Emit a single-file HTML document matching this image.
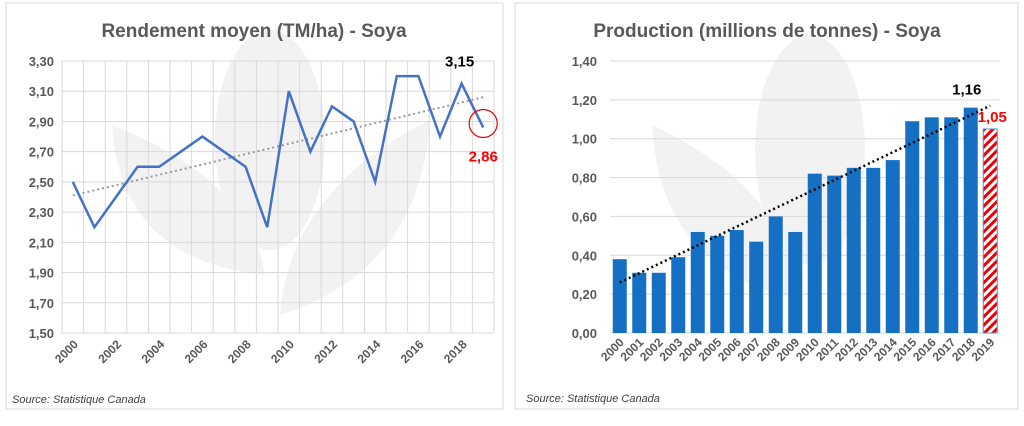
<!DOCTYPE html>
<html><head><meta charset="utf-8"><style>
body{margin:0;background:#fff;width:1024px;height:421px;overflow:hidden;font-family:"Liberation Sans",sans-serif}
svg text{font-family:"Liberation Sans",sans-serif}
</style></head><body>
<svg id="s" width="1024" height="421">
<defs><pattern id="hatch" width="6" height="6" patternUnits="userSpaceOnUse" patternTransform="rotate(45)"><rect width="6" height="6" fill="#fff"/><rect width="3" height="6" fill="#e00"/></pattern></defs>
<rect x="6" y="3" width="497" height="406" fill="#fff" stroke="#d9d9d9"/>
<rect x="515" y="3" width="503" height="406" fill="#fff" stroke="#d9d9d9"/>
<g fill="#f2f2f2">
<ellipse cx="270" cy="140" rx="55" ry="110"/><path d="M112 125 Q120 260 265 275 Q250 180 112 125Z"/><path d="M430 120 Q420 270 280 315 Q290 190 430 120Z"/></g>
<g fill="#f2f2f2">
<ellipse cx="810" cy="150" rx="55" ry="115"/><path d="M652 125 Q660 270 800 300 Q790 190 652 125Z"/></g>
<text x="254" y="37" text-anchor="middle" font-size="19" font-weight="bold" fill="#595959">Rendement moyen (TM/ha) - Soya</text>
<text x="767" y="37" text-anchor="middle" font-size="19" font-weight="bold" fill="#595959">Production (millions de tonnes) - Soya</text>
<text x="12" y="403" font-size="11" font-style="italic" fill="#404040">Source: Statistique Canada</text>
<text x="526" y="402" font-size="11" font-style="italic" fill="#404040">Source: Statistique Canada</text>
<g id="L"></g><g id="R"></g>
</svg>
<script>
const years=["2000","2001","2002","2003","2004","2005","2006","2007","2008","2009","2010","2011","2012","2013","2014","2015","2016","2017","2018","2019"];
const yieldVals=[2.50,2.20,2.40,2.60,2.60,2.70,2.80,2.70,2.60,2.20,3.10,2.70,3.00,2.90,2.50,3.20,3.20,2.80,3.15,2.86];
const yieldTicks=[1.5,1.7,1.9,2.1,2.3,2.5,2.7,2.9,3.1,3.3];
const yieldTrend=[2.41,3.06];
const prodVals=[0.38,0.31,0.31,0.39,0.52,0.50,0.53,0.47,0.60,0.52,0.82,0.81,0.85,0.85,0.89,1.09,1.11,1.11,1.16,1.05];
const prodTicks=[0,0.2,0.4,0.6,0.8,1.0,1.2,1.4];
const prodTrend=[0.26,1.17];
const NS="http://www.w3.org/2000/svg";
function mk(p,t,a){const e=document.createElementNS(NS,t);for(const k in a)e.setAttribute(k,a[k]);p.appendChild(e);return e;}
const fmt=v=>v.toFixed(2).replace('.',',');
// left
const L=document.getElementById('L');
const lx0=62,lx1=494,ly0=333,ly1=61,lbw=(lx1-lx0)/years.length;
const lx=i=>lx0+lbw*(i+0.5), ly=v=>ly0-(v-1.5)/(3.3-1.5)*(ly0-ly1);
yieldTicks.forEach(t=>{const g=mk(L,'line',{x1:lx0,x2:lx1,y1:ly(t),y2:ly(t),stroke:'#d9d9d9'});

const tx=mk(L,'text',{x:54,y:ly(t)+5,'text-anchor':'end','font-size':13,'font-weight':'bold',fill:'#595959'});tx.textContent=fmt(t);
});
for(let i=0;i<=years.length;i++){const g=mk(L,'line',{x1:lx0+lbw*i,x2:lx0+lbw*i,y1:ly1,y2:ly0,stroke:'#d9d9d9'});
}
years.forEach((y,i)=>{if(i%2)return;const t=mk(L,'text',{transform:`translate(${lx(i)+6},${ly0+12}) rotate(-45)`,'text-anchor':'end','font-size':12,'font-weight':'bold',fill:'#595959'});t.textContent=y;
});
let tl=mk(L,'line',{x1:lx(0),y1:ly(yieldTrend[0]),x2:lx(19),y2:ly(yieldTrend[1]),stroke:'#999','stroke-width':2,'stroke-dasharray':'2 3'});

const pl=mk(L,'polyline',{points:yieldVals.map((v,i)=>lx(i)+','+ly(v)).join(' '),fill:'none',stroke:'#4472c4','stroke-width':2.5});

const c=mk(L,'circle',{cx:lx(19),cy:ly(yieldVals[19])-4,r:14,fill:'none',stroke:'#e00','stroke-width':1.2});

let a=mk(L,'text',{x:lx(18)-2,y:ly(yieldVals[18])-17,'text-anchor':'middle','font-size':15,'font-weight':'bold',fill:'#000'});a.textContent=fmt(yieldVals[18]);

a=mk(L,'text',{x:lx(19)+0,y:ly(yieldVals[19])+34,'text-anchor':'middle','font-size':15,'font-weight':'bold',fill:'#f00'});a.textContent=fmt(yieldVals[19]);

// right
const R=document.getElementById('R');
const rx0=610,rx1=1000,ry0=333,ry1=61,rbw=(rx1-rx0)/years.length;
const rx=i=>rx0+rbw*(i+0.5), ry=v=>ry0-v/1.4*(ry0-ry1);
prodTicks.forEach(t=>{const g=mk(R,'line',{x1:rx0,x2:rx1,y1:ry(t),y2:ry(t),stroke:'#d9d9d9'});

const tx=mk(R,'text',{x:597,y:ry(t)+5,'text-anchor':'end','font-size':13,'font-weight':'bold',fill:'#595959'});tx.textContent=fmt(t);
});
prodVals.forEach((v,i)=>{const last=i===prodVals.length-1;
const b=mk(R,'rect',{x:rx(i)-7,y:ry(v),width:14,height:ry0-ry(v),fill:last?'url(#hatch)':'#1570c4',stroke:last?'#4a90d9':'none'});

const t=mk(R,'text',{transform:`translate(${rx(i)+5},${ry0+10}) rotate(-45)`,'text-anchor':'end','font-size':12,'font-weight':'bold',fill:'#595959'});t.textContent=years[i];
});
tl=mk(R,'line',{x1:rx(0),y1:ry(prodTrend[0]),x2:rx(19),y2:ry(prodTrend[1]),stroke:'#000','stroke-width':2.5,'stroke-dasharray':'2 3'});

a=mk(R,'text',{x:rx(18)-4,y:ry(prodVals[18])-13,'text-anchor':'middle','font-size':15,'font-weight':'bold',fill:'#000'});a.textContent=fmt(prodVals[18]);

a=mk(R,'text',{x:rx(19)+2,y:ry(prodVals[19])-7,'text-anchor':'middle','font-size':15,'font-weight':'bold',fill:'#f00'});a.textContent=fmt(prodVals[19]);

</script>
</body></html>
